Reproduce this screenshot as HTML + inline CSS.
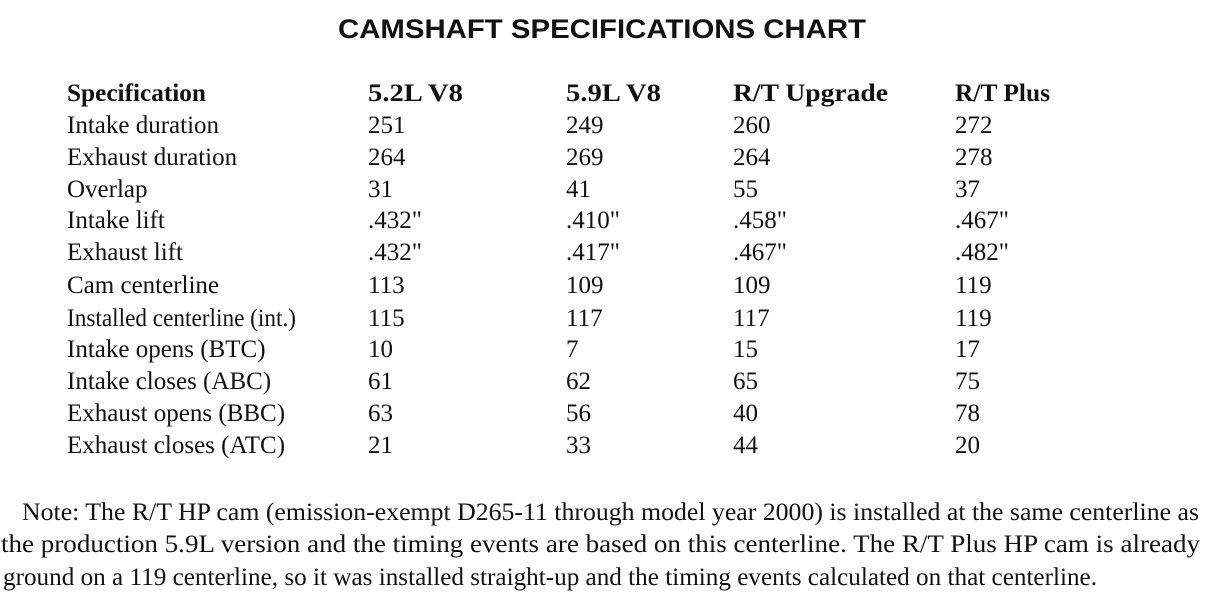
<!DOCTYPE html>
<html><head><meta charset="utf-8"><style>
html,body{margin:0;padding:0;background:#fff;}
svg{display:block}
.t{font-family:"Liberation Serif",serif;font-size:25px;fill:#111}
.b{font-weight:bold}
</style></head><body>
<svg width="1209" height="613" viewBox="0 0 1209 613" xmlns="http://www.w3.org/2000/svg">
<rect width="1209" height="613" fill="#fff"/>
<text x="338" y="38" font-family="Liberation Sans,sans-serif" font-weight="bold" font-size="27" fill="#111" textLength="528" lengthAdjust="spacingAndGlyphs">CAMSHAFT SPECIFICATIONS CHART</text>
<g class="t">
<text class="b" x="67" y="101" textLength="139" lengthAdjust="spacingAndGlyphs">Specification</text>
<text class="b" x="368" y="101" textLength="95" lengthAdjust="spacingAndGlyphs">5.2L V8</text>
<text class="b" x="566" y="101" textLength="95" lengthAdjust="spacingAndGlyphs">5.9L V8</text>
<text class="b" x="733" y="101" textLength="155" lengthAdjust="spacingAndGlyphs">R/T Upgrade</text>
<text class="b" x="955" y="101" textLength="95" lengthAdjust="spacingAndGlyphs">R/T Plus</text>

<text x="67" y="133">Intake duration</text>
<text x="368" y="133">251</text><text x="566" y="133">249</text><text x="733" y="133">260</text><text x="955" y="133">272</text>

<text x="67" y="165">Exhaust duration</text>
<text x="368" y="165">264</text><text x="566" y="165">269</text><text x="733" y="165">264</text><text x="955" y="165">278</text>

<text x="67" y="197">Overlap</text>
<text x="368" y="197">31</text><text x="566" y="197">41</text><text x="733" y="197">55</text><text x="955" y="197">37</text>

<text x="67" y="228">Intake lift</text>
<text x="368" y="228">.432"</text><text x="566" y="228">.410"</text><text x="733" y="228">.458"</text><text x="955" y="228">.467"</text>

<text x="67" y="260">Exhaust lift</text>
<text x="368" y="260">.432"</text><text x="566" y="260">.417"</text><text x="733" y="260">.467"</text><text x="955" y="260">.482"</text>

<text x="67" y="293">Cam centerline</text>
<text x="368" y="293">113</text><text x="566" y="293">109</text><text x="733" y="293">109</text><text x="955" y="293">119</text>

<text x="67" y="326" textLength="229" lengthAdjust="spacingAndGlyphs">Installed centerline (int.)</text>
<text x="368" y="326">115</text><text x="566" y="326">117</text><text x="733" y="326">117</text><text x="955" y="326">119</text>

<text x="67" y="357">Intake opens (BTC)</text>
<text x="368" y="357">10</text><text x="566" y="357">7</text><text x="733" y="357">15</text><text x="955" y="357">17</text>

<text x="67" y="389">Intake closes (ABC)</text>
<text x="368" y="389">61</text><text x="566" y="389">62</text><text x="733" y="389">65</text><text x="955" y="389">75</text>

<text x="67" y="421">Exhaust opens (BBC)</text>
<text x="368" y="421">63</text><text x="566" y="421">56</text><text x="733" y="421">40</text><text x="955" y="421">78</text>

<text x="67" y="453">Exhaust closes (ATC)</text>
<text x="368" y="453">21</text><text x="566" y="453">33</text><text x="733" y="453">44</text><text x="955" y="453">20</text>

<text x="22" y="520" textLength="1177" lengthAdjust="spacingAndGlyphs">Note: The R/T HP cam (emission-exempt D265-11 through model year 2000) is installed at the same centerline as</text>
<text x="1" y="552" textLength="1199" lengthAdjust="spacingAndGlyphs">the production 5.9L version and the timing events are based on this centerline. The R/T Plus HP cam is already</text>
<text x="3" y="585" textLength="1094" lengthAdjust="spacingAndGlyphs">ground on a 119 centerline, so it was installed straight-up and the timing events calculated on that centerline.</text>
</g>
</svg>
</body></html>
